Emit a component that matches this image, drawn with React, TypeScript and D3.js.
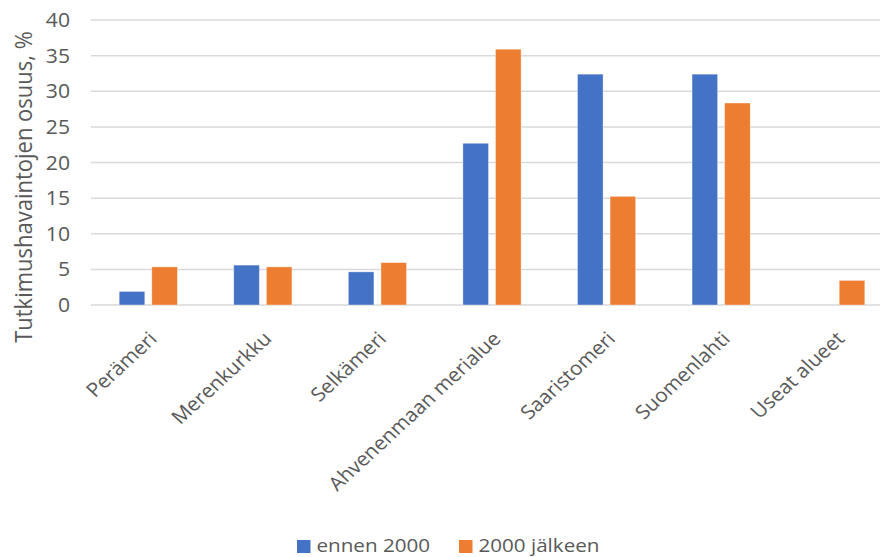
import React from "react";
import * as d3 from "d3";

const categories = [
  "Perämeri",
  "Merenkurkku",
  "Selkämeri",
  "Ahvenenmaan merialue",
  "Saaristomeri",
  "Suomenlahti",
  "Useat alueet",
];
const seriesNames = ["ennen 2000", "2000 jälkeen"];
const before2000 = [1.9, 5.6, 4.65, 22.7, 32.4, 32.4, 0];
const after2000 = [5.35, 5.35, 5.95, 35.9, 15.25, 28.35, 3.45];
const yTicks = [0, 5, 10, 15, 20, 25, 30, 35, 40];
const colors = ["#4472C4", "#ED7D31"];

const W = 880;
const H = 557;
const FONT = "'Open Sans', 'DejaVu Sans', sans-serif";
const TEXT = "#595959";
// text is drawn slightly wide
const SX = 1.085;

export default function App() {
  const x = d3.scaleBand<string>().domain(categories).range([91, 893]);
  const y = d3.scaleLinear().domain([0, 40]).range([305, 20]);
  const barW = 25.6;
  const gap = 7;
  const series = [before2000, after2000];

  return (
    <svg
      width={W}
      height={H}
      style={{ position: "absolute", left: 0, top: 0, background: "#fff" }}
      fontFamily={FONT}
    >
      {/* horizontal gridlines */}
      {yTicks.map((t) => (
        <line key={t} x1={91} x2={W} y1={y(t)} y2={y(t)} stroke="#D9D9D9" strokeWidth={1.5} />
      ))}
      {/* y tick labels */}
      {yTicks.map((t) => (
        <text
          key={"l" + t}
          transform={`translate(70, ${y(t)}) scale(${SX}, 1)`}
          dy="0.36em"
          textAnchor="end"
          fontSize={19.5}
          fill={TEXT}
        >
          {t}
        </text>
      ))}
      {/* y axis title */}
      <text
        transform={`translate(32, 187) scale(${SX}, 1) rotate(-90)`}
        textAnchor="middle"
        fontSize={22}
        fill={TEXT}
      >
        Tutkimushavaintojen osuus, %
      </text>
      {/* bars */}
      {categories.map((c, i) => {
        const cx = (x(c) as number) + x.bandwidth() / 2;
        return series.map((s, k) => {
          const v = s[i];
          if (!v) return null;
          const bx = k === 0 ? cx - gap / 2 - barW : cx + gap / 2;
          return (
            <rect
              key={c + k}
              x={bx}
              y={y(v)}
              width={barW}
              height={y(0) - y(v)}
              fill={colors[k]}
              stroke="#fff"
              strokeOpacity={0.5}
              strokeWidth={0.75}
            />
          );
        });
      })}
      {/* category labels */}
      {categories.map((c) => {
        const cx = (x(c) as number) + x.bandwidth() / 2;
        return (
          <text
            key={"c" + c}
            transform={`translate(${cx + 10}, 340) scale(${SX}, 1) rotate(-45)`}
            textAnchor="end"
            fontSize={19.3}
            fill={TEXT}
          >
            {c}
          </text>
        );
      })}
      {/* legend */}
      {seriesNames.map((n, k) => {
        const lx = k === 0 ? 297 : 459;
        return (
          <g key={n}>
            <rect x={lx} y={540} width={13.5} height={13} fill={colors[k]} />
            <text
              transform={`translate(${lx + 19.5}, 551.5) scale(${SX}, 1)`}
              fontSize={19}
              fill={TEXT}
            >
              {n}
            </text>
          </g>
        );
      })}
    </svg>
  );
}
